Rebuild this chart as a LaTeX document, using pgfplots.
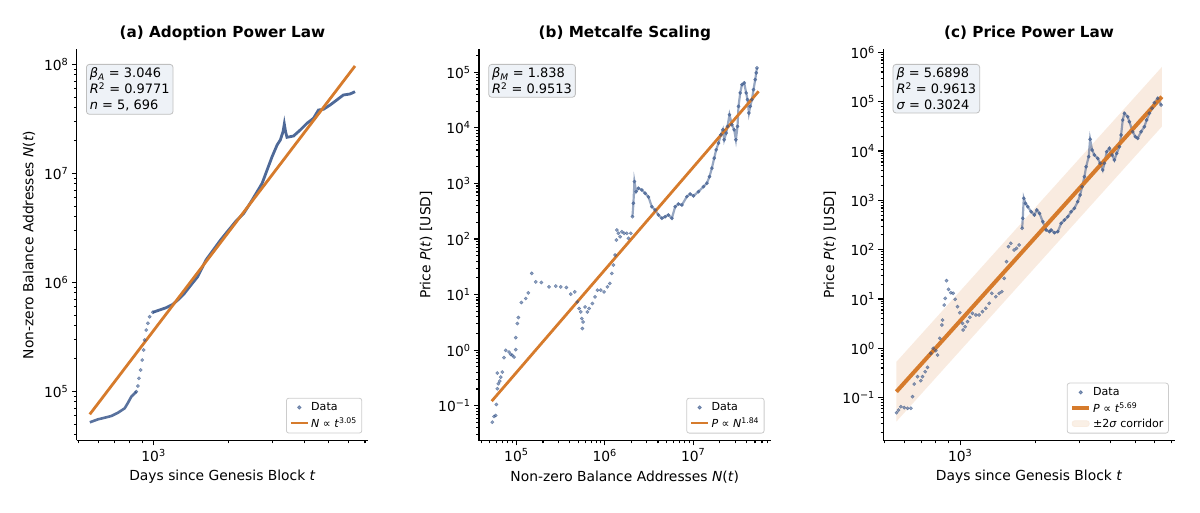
\documentclass[border=0pt]{standalone}
\usepackage{fontspec}
\setmainfont{DejaVu Sans}
\usepackage{pgfplots}
\usepackage{pgfplotstable}
\pgfplotsset{compat=1.18}
\definecolor{dotblue}{HTML}{2F4F86}
\definecolor{orng}{HTML}{D67B2C}
\definecolor{corr}{HTML}{F9ECE0}
\definecolor{boxfill}{HTML}{EEF2F7}

% ---------- panel (a): N(t) ----------
\pgfplotstableread{
t N
556.4 52000
600.4 55400
638.5 57300
678.3 59400
721.3 63700
766.8 69900
790.5 78600
814.7 89300
852.9 99200
}\adenseA
\pgfplotstableread{
t N
852.9 99200
866.2 111900
874.2 131700
888.0 156900
901.1 193800
912.7 239400
921.1 295800
934.8 365300
949.3 420900
964.3 483800
993.8 531000
}\asparse
\pgfplotstableread{
t N
993.8 531000
1057 557500
1123 585100
1194 628600
1250 688400
1329 793000
1411 945000
1501 1126000
1572 1391000
1620 1603000
1853 2446000
1971 2914000
2126 3600000
2294 4298000
2478 5691000
2594 6783000
2716 8100000
2843 10730000
2977 14210000
3117 18190000
3211 20220000
3292 24090000
3331 28360000
3371 24090000
3414 21410000
3627 22000000
3858 24980000
4102 28770000
4357 31980000
4561 38110000
4775 38680000
5078 42360000
5399 47080000
5735 52320000
6099 53430000
6385 56090000
}\adenseB

% ---------- panel (b): P vs N ----------
\pgfplotstableread{
N P
53460 0.0506
55870 0.0641
58400 0.0668
59330 0.1055
60900 0.2026
62510 0.2493
64820 0.2779
66540 0.328
69370 0.4036
60900 0.3873
72510 0.734
75800 0.994
82600 0.9264
86340 0.842
90030 0.808
94100 0.7527
98370 1.024
98370 1.685
102560 3.014
105300 3.867
113800 7.21
127700 8.51
136600 10.74
149300 24.04
165700 16.96
191700 16.55
234400 13.78
279100 14.19
317900 13.78
367900 13.44
412600 10.18
458000 11.19
489900 7.39
512200 5.62
535400 4.88
549500 3.71
558200 2.448
568500 3.221
598900 6.005
636000 4.88
664800 5.62
724400 6.918
777300 9.096
825400 12.02
902000 12.02
983000 11.19
1071000 13.78
1140000 15.87
1202000 24.04
1253000 33.95
1309000 51.4
1354000 95.8
1368000 145.2
1426000 126.6
1491000 110.0
1559000 135.3
1655000 126.6
1776000 126.6
1852000 102.9
1971000 126.6
}\bearly
\pgfplotstableread{
N P
2056000 252.4
2110000 440.3
2165000 1080
2264000 712.8
2404000 821
2626000 764.6
2862000 667
3119000 572
3408000 382
3715000 333.3
4049000 270.8
4424000 236.1
4820000 252.4
5254000 270.8
5741000 236.1
6257000 382
6818000 427.6
7451000 410.2
8486000 579
9250000 647.8
10080000 596
11480000 712.8
13080000 877
14300000 1010
15300000 1329
16290000 1884
17290000 2854
18220000 4029
19340000 5321
20590000 7510
21690000 9246
22440000 6102
23640000 8058
24460000 10600
25760000 17230
27430000 11380
29120000 9246
30440000 6102
31740000 10600
32580000 24330
34060000 42450
35600000 59940
37790000 64330
39820000 42450
41190000 32140
42730000 18500
44200000 24330
46200000 32140
48160000 48680
50350000 73770
51680000 97410
52630000 119900
}\blate

% ---------- panel (c): P vs t ----------
\pgfplotstableread{
t P
556.8 0.0495
567.0 0.0562
579.1 0.0656
597.6 0.0626
616.1 0.0609
635.1 0.0609
645.1 0.1046
655.3 0.1891
675.4 0.266
696.2 0.2208
707.2 0.266
725.0 0.336
740.5 0.4124
763.4 0.793
780.4 1.0
799.2 0.895
811.8 0.732
829.2 1.597
844.6 2.972
850.1 3.752
863.5 7.555
871.5 10.33
882.0 23.5
898.4 15.73
917.6 13.42
937.6 13.05
955.2 9.86
975.7 6.98
996.6 5.28
1022 3.217
1028 2.352
1047 2.745
1070 3.466
1093 4.256
1120 5.13
1155 4.739
1191 4.739
1228 5.528
1266 6.479
1306 8.18
1338 13.05
1388 11.13
1432 13.05
1467 14.06
1500 26.28
1532 57.05
1560 114.9
1594 134.6
1643 98.5
1679 106.6
1721 124.3
}\cearly
\pgfplotstableread{
t P
1769 271.2
1779 432.5
1796 1100
1824 871
1863 743
1922 588.7
1981 504.6
2024 637
2075 546
2139 369
2207 250.5
2274 231.4
2310 250.5
2381 220.8
2455 231.4
2533 342.4
2611 399.6
2692 466
2777 588.7
2862 690
2950 938.7
3016 1283
3072 1891
3138 3015
3188 4809
3264 7668
3306 17280
3368 10490
3440 8304
3547 7116
3626 5636
3714 4123
3772 5636
3852 9685
3949 11350
4048 8304
4135 6574
4224 8989
4330 12230
4398 21120
4464 42540
4534 58150
4673 49610
4746 39290
4893 24640
5016 19510
5124 18100
5286 24640
5448 31110
5565 42540
5705 58150
5849 73430
5975 95370
6159 117100
6355 85660
}\clate

\pgfplotsset{
  every axis/.append style={
    scale only axis, width=291.5bp, height=391bp,
    axis x line*=bottom, axis y line*=left,
    axis line style={line width=1.1bp, black},
    tick style={black, line width=1.1bp},
    major tick length=4.9bp, minor tick length=2.8bp,
    tick align=outside,
    tick label style={font=\fontsize{13.9}{16}\selectfont},
    every axis label/.append style={font=\fontsize{13.9}{16}\selectfont},
    every axis title/.style={font=\fontsize{15.3}{18}\selectfont\bfseries, at={(0.5,1)}, anchor=base, yshift=12bp},
    every axis x label/.style={at={(axis description cs:0.5,-0.0934)}, anchor=center, font=\fontsize{13.9}{16}\selectfont},
    legend cell align=left,
    legend style={at={(1,0)}, anchor=south east, xshift=-6bp, yshift=7bp,
      draw=black!20, line width=0.8bp, rounded corners=2.5bp, fill=white, fill opacity=0.8, text opacity=1,
      font=\fontsize{11.1}{13}\selectfont, inner xsep=3bp, inner ysep=2.5bp, row sep=1.2bp},
  },
  mydots/.style={only marks, mark=*, mark size=1.7bp, color=dotblue, opacity=0.55,
    mark options={draw=none, fill=dotblue}},
  mytrail/.style={no marks, color=dotblue, opacity=0.5, line width=2.2bp, forget plot},
}
\tikzset{myannot/.style={anchor=north west, xshift=9.3bp, yshift=-14.5bp, draw=black!25, line width=0.8bp,
    fill=boxfill, rounded corners=3bp, align=left, inner sep=3.5bp,
    font=\fontsize{13}{15.8}\selectfont}}

\begin{document}
\begin{tikzpicture}
\useasboundingbox (0,0) rectangle (1200bp,513bp);

% ================= (a) =================
\begin{axis}[at={(76.7bp,72.5bp)}, anchor=south west,
  xmode=log, ymode=log,
  xmin=493, xmax=7210, ymin=35400, ymax=1.368e8,
  xtick={1000}, xticklabels={10\textsuperscript{3}},
  minor xtick={500,600,700,800,900,2000,3000,4000,5000,6000,7000},
  ytick={1e5,1e6,1e7,1e8},
  yticklabels={10\textsuperscript{5},10\textsuperscript{6},10\textsuperscript{7},10\textsuperscript{8}},
  minor ytick={4e4,5e4,6e4,7e4,8e4,9e4,2e5,3e5,4e5,5e5,6e5,7e5,8e5,9e5,2e6,3e6,4e6,5e6,6e6,7e6,8e6,9e6,2e7,3e7,4e7,5e7,6e7,7e7,8e7,9e7},
  title={(a) Adoption Power Law},
  xlabel={Days since Genesis Block \textit{t}},
  ylabel={Non-zero Balance Addresses \textit{N}(\textit{t})},
  every axis y label/.style={at={(axis description cs:-0.1636,0.5)}, anchor=center, rotate=90, font=\fontsize{13.9}{16}\selectfont},
]
\addplot[mydots] table[x=t,y=N] {\asparse};
\addlegendentry{Data}
\addplot[no marks, color=dotblue, opacity=0.8, line width=2.6bp, forget plot] table[x=t,y=N] {\adenseA};
\addplot[no marks, color=dotblue, opacity=0.85, line width=2.8bp, forget plot] table[x=t,y=N] {\adenseB};
\addplot[orng, line width=2.8bp, no marks] coordinates {(556,61500) (6385,9.66e7)};
\addlegendentry{\textit{N} ∝ \textit{t}\textsuperscript{3.05}}
\node[myannot] at (rel axis cs:0,1) {\textit{β}\textsubscript{\textit{A}} = 3.046\\\textit{R}\textsuperscript{2} = 0.9771\\\textit{n} = 5, 696};
\end{axis}

% ================= (b) =================
\begin{axis}[at={(479bp,72.5bp)}, anchor=south west,
  xmode=log, ymode=log,
  xmin=37800, xmax=7.5e7, ymin=0.0237, ymax=2.57e5,
  xtick={1e5,1e6,1e7},
  xticklabels={10\textsuperscript{5},10\textsuperscript{6},10\textsuperscript{7}},
  minor xtick={4e4,5e4,6e4,7e4,8e4,9e4,2e5,3e5,4e5,5e5,6e5,7e5,8e5,9e5,2e6,3e6,4e6,5e6,6e6,7e6,8e6,9e6,2e7,3e7,4e7,5e7,6e7,7e7},
  ytick={1e-1,1,10,100,1000,1e4,1e5},
  yticklabels={10\textsuperscript{−1},10\textsuperscript{0},10\textsuperscript{1},10\textsuperscript{2},10\textsuperscript{3},10\textsuperscript{4},10\textsuperscript{5}},
  minor ytick={0.03,0.04,0.05,0.06,0.07,0.08,0.09,0.2,0.3,0.4,0.5,0.6,0.7,0.8,0.9,2,3,4,5,6,7,8,9,20,30,40,50,60,70,80,90,200,300,400,500,600,700,800,900,2000,3000,4000,5000,6000,7000,8000,9000,2e4,3e4,4e4,5e4,6e4,7e4,8e4,9e4,2e5},
  title={(b) Metcalfe Scaling},
  xlabel={Non-zero Balance Addresses \textit{N}(\textit{t})},
  ylabel={Price \textit{P}(\textit{t}) [USD]},
  every axis y label/.style={at={(axis description cs:-0.182,0.5)}, anchor=center, rotate=90, font=\fontsize{13.9}{16}\selectfont},
]
\addplot[mydots] table[x=N,y=P] {\bearly};
\addlegendentry{Data}
\addplot[mytrail] table[x=N,y=P] {\blate};
\addplot[mydots, forget plot] table[x=N,y=P] {\blate};
\addplot[orng, line width=2.8bp, no marks] coordinates {(52600,0.121) (5.5e7,45400)};
\addlegendentry{\textit{P} ∝ \textit{N}\textsuperscript{1.84}}
\node[myannot] at (rel axis cs:0,1) {\textit{β}\textsubscript{\textit{M}} = 1.838\\\textit{R}\textsuperscript{2} = 0.9513};
\end{axis}

% ================= (c) =================
\begin{axis}[at={(883.3bp,72.5bp)}, anchor=south west,
  xmode=log, ymode=log,
  xmin=493, xmax=7210, ymin=0.01354, ymax=1.143e6,
  xtick={1000}, xticklabels={10\textsuperscript{3}},
  minor xtick={500,600,700,800,900,2000,3000,4000,5000,6000,7000},
  ytick={1e-1,1,10,100,1000,1e4,1e5,1e6},
  yticklabels={10\textsuperscript{−1},10\textsuperscript{0},10\textsuperscript{1},10\textsuperscript{2},10\textsuperscript{3},10\textsuperscript{4},10\textsuperscript{5},10\textsuperscript{6}},
  minor ytick={0.02,0.03,0.04,0.05,0.06,0.07,0.08,0.09,0.2,0.3,0.4,0.5,0.6,0.7,0.8,0.9,2,3,4,5,6,7,8,9,20,30,40,50,60,70,80,90,200,300,400,500,600,700,800,900,2000,3000,4000,5000,6000,7000,8000,9000,2e4,3e4,4e4,5e4,6e4,7e4,8e4,9e4,2e5,3e5,4e5,5e5,6e5,7e5,8e5,9e5},
  title={(c) Price Power Law},
  xlabel={Days since Genesis Block \textit{t}},
  ylabel={Price \textit{P}(\textit{t}) [USD]},
  every axis y label/.style={at={(axis description cs:-0.184,0.5)}, anchor=center, rotate=90, font=\fontsize{13.9}{16}\selectfont},
]
\addplot[draw=none, fill=orng, fill opacity=0.15, forget plot] coordinates {(556,0.532) (6400,505000) (6400,31300) (556,0.0328) (556,0.532)};
\addplot[mydots] table[x=t,y=P] {\cearly};
\addlegendentry{Data}
\addplot[mytrail] table[x=t,y=P] {\clate};
\addplot[mydots, forget plot] table[x=t,y=P] {\clate};
\addplot[orng, line width=4bp, no marks] coordinates {(556,0.132) (6400,126000)};
\addlegendentry{\textit{P} ∝ \textit{t}\textsuperscript{5.69}}
\addlegendimage{area legend, draw=corr, fill=corr}
\addlegendentry{±2\textit{σ} corridor}
\node[myannot] at (rel axis cs:0,1) {\textit{β} = 5.6898\\\textit{R}\textsuperscript{2} = 0.9613\\\textit{σ} = 0.3024};
\end{axis}
\end{tikzpicture}
\end{document}
